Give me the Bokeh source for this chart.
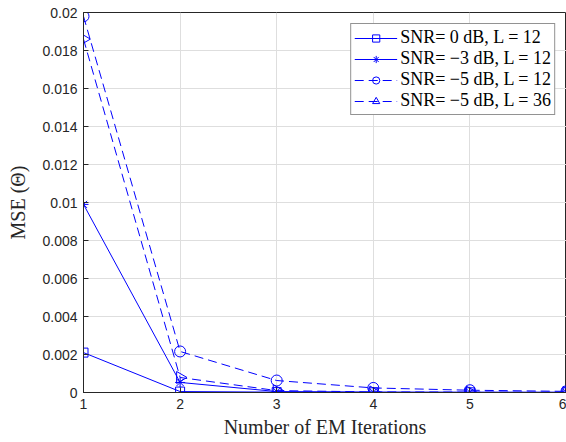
import math
from bokeh.plotting import figure
from bokeh.models import Range1d, FixedTicker
from bokeh.embed import file_html
from bokeh.resources import INLINE

iterations = [1, 2, 3, 4, 5, 6]
mse_snr0_L12 = [0.0021, 0.00005, 0.00002, 0.00001, 0.00001, 0.00001]
mse_snrm3_L12 = [0.0099, 0.00053, 0.00005, 0.00002, 0.00001, 0.00001]
mse_snrm5_L12 = [0.0198, 0.00216, 0.00063, 0.00024, 0.00012, 0.00006]
mse_snrm5_L36 = [0.0186, 0.00079, 0.0001, 0.00003, 0.00002, 0.00001]
labels = ["SNR= 0 dB, L = 12", "SNR= \u22123 dB, L = 12",
          "SNR= \u22125 dB, L = 12", "SNR= \u22125 dB, L = 36"]
x_ticks = [1, 2, 3, 4, 5, 6]
y_ticks = [0, 0.002, 0.004, 0.006, 0.008, 0.01, 0.012, 0.014, 0.016, 0.018, 0.02]
y_tick_labels = ["0", "0.002", "0.004", "0.006", "0.008", "0.01", "0.012",
                 "0.014", "0.016", "0.018", "0.02"]

BLUE = "#0000ff"
DARK = "#262626"

p = figure(width=566, height=442, output_backend="svg", toolbar_location=None,
           x_range=Range1d(1, 6), y_range=Range1d(0, 0.02),
           min_border_left=83, min_border_top=12, min_border_right=0,
           min_border_bottom=50)
p.background_fill_color = "white"
p.border_fill_color = "white"
p.outline_line_color = DARK
p.outline_line_width = 1

p.xaxis.ticker = FixedTicker(ticks=x_ticks)
p.yaxis.ticker = FixedTicker(ticks=y_ticks)
p.yaxis.major_label_overrides = {t: l for t, l in zip(y_ticks, y_tick_labels)}
p.xaxis.major_label_overrides = {t: str(t) for t in x_ticks}

for ax in (p.xaxis, p.yaxis):
    ax.major_tick_in = 5
    ax.major_tick_out = 0
    ax.minor_tick_line_color = None
    ax.axis_line_color = DARK
    ax.major_tick_line_color = DARK
    ax.major_label_text_color = DARK
    ax.major_label_text_font = "Liberation Sans"
    ax.major_label_text_font_size = "14px"
    ax.axis_label_text_font = "Liberation Serif"
    ax.axis_label_text_font_size = "20px"
    ax.axis_label_text_font_style = "normal"
    ax.axis_label_text_color = DARK
    ax.major_label_standoff = 6

p.xaxis.axis_label = "Number of EM Iterations"
p.yaxis.axis_label = "MSE (\u0398)"
p.xaxis.axis_label_standoff = 4
p.yaxis.axis_label_standoff = 10

p.grid.grid_line_color = "#dedede"
p.grid.grid_line_alpha = 1

series = [mse_snr0_L12, mse_snrm3_L12, mse_snrm5_L12, mse_snrm5_L36]
dashes = ["solid", "solid", "9 5", "9 5"]
markers = ["square", "asterisk", "circle", "triangle"]
angles = [0, 0, 0, -math.pi / 2]
sizes = [9, 10, 11, 12]

for ys, lab, dash, mk, ang, sz in zip(series, labels, dashes, markers, angles, sizes):
    p.line(iterations, ys, line_color=BLUE, line_width=1, line_dash=dash, legend_label=lab)
    p.scatter(iterations, ys, marker=mk, size=sz, angle=ang, angle_units="rad",
              line_color=BLUE, fill_color=None, line_width=1, legend_label=lab)

lg = p.legend[0]
lg.location = "top_right"
lg.border_line_color = DARK
lg.border_line_width = 1
lg.background_fill_color = "white"
lg.background_fill_alpha = 1
lg.label_text_font = "Liberation Serif"
lg.label_text_font_size = "18px"
lg.label_text_line_height = 1.05
lg.label_text_color = "black"
lg.glyph_width = 43
lg.glyph_height = 18
lg.label_height = 18
lg.spacing = -2
lg.padding = 3
lg.margin = 11
lg.label_standoff = 3

open("out.html", "w").write(file_html(p, INLINE))
